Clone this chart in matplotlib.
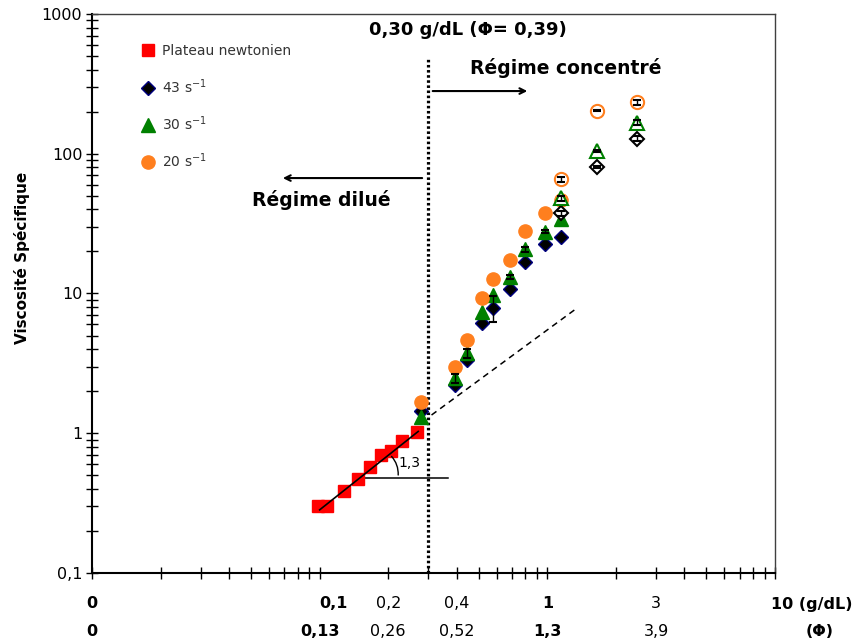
"""Viscosité spécifique en fonction de la concentration"""

import numpy as np
import matplotlib.pyplot as plt
from matplotlib.ticker import NullFormatter

plt.rcParams['font.family'] = ['DejaVu Sans']

# plateau newtonien (régime dilué)
plateau_c = [0.098, 0.108, 0.128, 0.148, 0.166, 0.186, 0.205, 0.229, 0.267]
plateau_v = [0.30, 0.302, 0.386, 0.471, 0.570, 0.698, 0.75, 0.885, 1.026]

# régime concentré, premier lot (symboles pleins)
conc = [0.279, 0.395, 0.444, 0.514, 0.577, 0.684, 0.799, 0.974, 1.153]
v43 = [1.44, 2.21, 3.34, 6.12, 7.91, 10.8, 16.9, 22.6, 25.5]
v30 = [1.31, 2.47, 3.73, 7.41, 9.75, 13.1, 20.7, 27.7, 34.0]
v20 = [1.68, 2.99, 4.65, 9.33, 12.8, 17.4, 28.1, 37.5, 46.6]
err43 = [0, 0, 0, 0, 1.7, 0, 0, 0, 0]
err30 = [0, 0.17, 0.3, 0, 0, 0.5, 0.8, 0.6, 0]
err20 = [0, 0, 0, 0, 0, 0, 0, 0, 0]

# régime concentré, second lot (symboles vides)
conc_b = [1.153, 1.66, 2.48]
v43_b = [37.5, 80, 128]
v30_b = [48.0, 105, 167]
v20_b = [65.6, 203, 233]
err43_b = [1.5, 1.5, 5]
err30_b = [2, 2, 6]
err20_b = [3, 2, 8]

# droite de pente 1,3 et son prolongement
fit_c = [0.100, 0.271]
fit_v = [0.283, 1.03]
ext_c = [0.310, 1.345]
ext_v = [1.35, 7.83]
c_star = 0.30

# graduations
yticks = [0.1, 1, 10, 100, 1000]
ytick_labels = ['0,1', '1', '10', '100', '1000']
xticks = [0.01, 0.1, 0.2, 0.4, 1, 3]
conc_labels = ['0', '0,1', '0,2', '0,4', '1', '3']
phi_labels = ['0', '0,13', '0,26', '0,52', '1,3', '3,9']
bold_labels = [True, True, False, False, True, False]

orange = '#ff7f1e'
green = '#008000'

fig = plt.figure(figsize=(8.54, 6.43), dpi=100)
ax = fig.add_axes([0.1077, 0.1089, 0.7998, 0.8693])
ax.set_xscale('log')
ax.set_yscale('log')
ax.set_xlim(0.01, 10)
ax.set_ylim(0.1, 1000)

# données
ax.plot(plateau_c, plateau_v, 's', color='red', ms=8.5, mec='red', zorder=3,
        label='Plateau newtonien')
ax.plot(conc, v43, 'D', mfc='black', mec='#000080', mew=1, ms=7.5, zorder=3,
        label='43 s$^{-1}$')
ax.plot(conc, v30, '^', color=green, ms=9.5, zorder=3, label='30 s$^{-1}$')
ax.plot(conc, v20, 'o', color=orange, ms=9.5, zorder=3, label='20 s$^{-1}$')

ax.plot(conc_b, v43_b, 'D', mfc='white', mec='black', mew=1.5, ms=7.5, zorder=3)
ax.plot(conc_b, v30_b, '^', mfc='white', mec=green, mew=1.5, ms=9.5, zorder=3)
ax.plot(conc_b, v20_b, 'o', mfc='white', mec=orange, mew=1.5, ms=9.5, zorder=3)

# barres d'erreur
for x, y, e in [(conc, v43, err43), (conc, v30, err30), (conc, v20, err20),
                (conc_b, v43_b, err43_b), (conc_b, v30_b, err30_b),
                (conc_b, v20_b, err20_b)]:
    e = np.array(e, dtype=float)
    keep = e > 0
    ax.errorbar(np.array(x)[keep], np.array(y)[keep], yerr=e[keep], fmt='none',
                ecolor='black', elinewidth=1, capsize=3, capthick=1.5, zorder=4)

# pente 1,3
ax.plot(fit_c, fit_v, color='black', lw=1.2, zorder=4)
ax.plot(ext_c, ext_v, color='black', lw=1.1, ls=(0, (4, 3)), zorder=2)
ax.plot([0.1454, 0.367], [0.48, 0.48], color='black', lw=1.1, zorder=2)
ax.annotate('', xy=(0.203, 0.706), xytext=(0.2208, 0.48),
            arrowprops=dict(arrowstyle='-', lw=1, color='black',
                            connectionstyle='arc3,rad=0.25'))
ax.text(0.249, 0.61, '1,3', fontsize=10, ha='center', va='center')

# concentration critique
ax.plot([c_star, c_star], [0.1, 492], color='black', lw=2.3,
        ls=(0, (0.8, 0.8)), zorder=2)
ax.text(0.448, 769, '0,30 g/dL (\u03a6= 0,39)', fontsize=13, fontweight='bold',
        ha='center', va='center')
ax.text(1.207, 411, 'Régime concentré', fontsize=13.5, fontweight='bold',
        ha='center', va='center')
ax.text(0.1013, 46.7, 'Régime dilué', fontsize=13.5, fontweight='bold',
        ha='center', va='center')
ax.annotate('', xy=(0.84, 281), xytext=(0.305, 281),
            arrowprops=dict(arrowstyle='->', lw=1.5, color='black'))
ax.annotate('', xy=(0.067, 67), xytext=(0.29, 67),
            arrowprops=dict(arrowstyle='->', lw=1.5, color='black'))

# axes
for side in ['left', 'bottom']:
    ax.spines[side].set_linewidth(1.5)
    ax.spines[side].set_color('black')
for side in ['top', 'right']:
    ax.spines[side].set_linewidth(1)
    ax.spines[side].set_color('#404040')

ax.set_yticks(yticks, labels=ytick_labels)
ax.yaxis.set_minor_formatter(NullFormatter())
ax.xaxis.set_minor_formatter(NullFormatter())
ax.set_xticks([0.01, 0.1, 1, 10])
ax.tick_params(which='both', direction='inout', length=9, width=1, pad=2.5)
ax.tick_params(axis='y', labelsize=11.5)
ax.tick_params(axis='x', labelbottom=False)

tr = ax.get_xaxis_transform()
for x, lab_c, lab_p, b in zip(xticks, conc_labels, phi_labels, bold_labels):
    w = 'bold' if b else 'normal'
    ha = 'left' if lab_c == '0,1' else 'center'
    ax.text(x, -0.0555, lab_c, transform=tr, fontsize=11.5, fontweight=w,
            ha=ha, va='center')
    ax.text(x, -0.1055, lab_p, transform=tr, fontsize=11.5, fontweight=w,
            ha='center', va='center')
fig.text(0.998, 1 - 604 / 643, '10 (g/dL)', fontsize=11.5, fontweight='bold',
         ha='right', va='center')
fig.text(820 / 854, 1 - 632 / 643, '(\u03a6)', fontsize=11.5, fontweight='bold',
         ha='center', va='center')

fig.text(22 / 854, 1 - 258 / 643, 'Viscosité Spécifique', rotation=90,
         fontsize=11, fontweight='bold', ha='center', va='center')

leg = ax.legend(loc='upper left', bbox_to_anchor=(0.072, 0.946), frameon=False,
                fontsize=10, labelspacing=1.35, handlelength=1.0,
                handletextpad=0.5, borderpad=0, borderaxespad=0)
for t in leg.get_texts():
    t.set_color('#333333')

fig.savefig('out.png', dpi=100)
